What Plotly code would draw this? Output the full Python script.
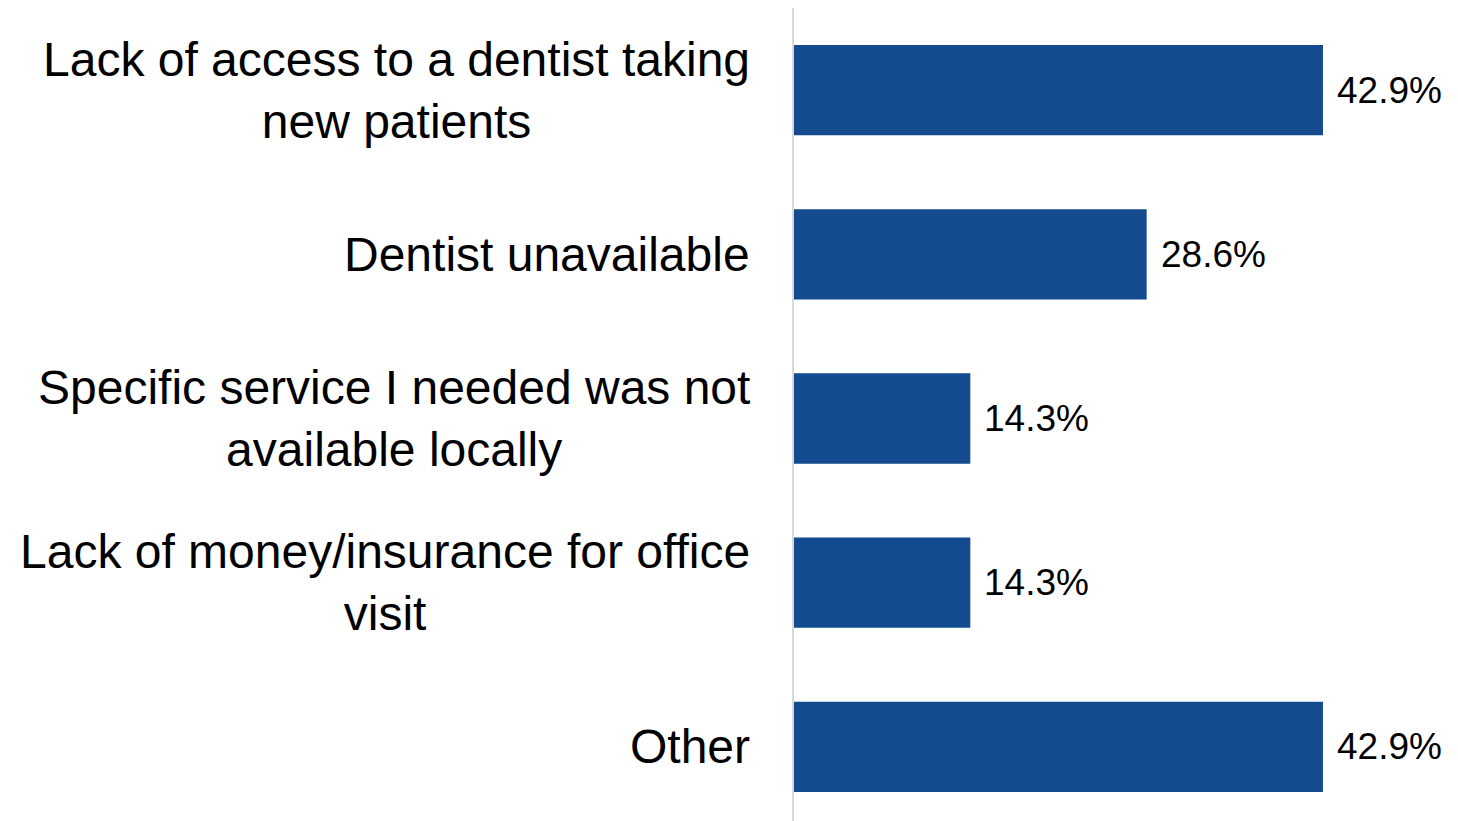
"""Reasons for not visiting a dentist - horizontal bar chart (plotly)"""
import plotly.graph_objects as go

categories = [
    "Lack of access to a dentist taking<br>new patients",
    "Dentist unavailable",
    "Specific service I needed was not<br>available locally",
    "Lack of money/insurance for office<br>visit",
    "Other",
]
values = [42.9, 28.6, 14.3, 14.3, 42.9]
value_labels = ["42.9%", "28.6%", "14.3%", "14.3%", "42.9%"]

BAR_COLOR = "#134B8E"
FONT = "Liberation Sans, Arial, sans-serif"

fig = go.Figure(
    go.Bar(
        x=values,
        y=categories,
        orientation="h",
        marker=dict(color=BAR_COLOR, line=dict(width=0)),
        hoverinfo="skip",
    )
)

# category labels: right aligned block, lines centred
for cat in categories:
    fig.add_annotation(
        x=0, y=cat, xref="x", yref="y",
        text=cat, showarrow=False,
        xanchor="right", align="center", xshift=-42,
        font=dict(family=FONT, size=48, color="#000000"),
    )

# value labels just past the bar ends
for cat, val, lab in zip(categories, values, value_labels):
    fig.add_annotation(
        x=val, y=cat, xref="x", yref="y",
        text=lab, showarrow=False,
        xanchor="left", xshift=12,
        font=dict(family=FONT, size=37, color="#000000"),
    )

fig.update_layout(
    width=1458,
    height=821,
    margin=dict(l=786, r=0, t=0, b=0),
    paper_bgcolor="white",
    plot_bgcolor="white",
    bargap=0.45,
    showlegend=False,
    font=dict(family=FONT),
    xaxis=dict(
        range=[0, 54.5], visible=False, fixedrange=True,
    ),
    yaxis=dict(
        autorange="reversed", showticklabels=False, ticks="",
        showgrid=False, zeroline=False,
        showline=True, linecolor="#D9D9D9", linewidth=2,
    ),
)

fig.write_html("out.html")
